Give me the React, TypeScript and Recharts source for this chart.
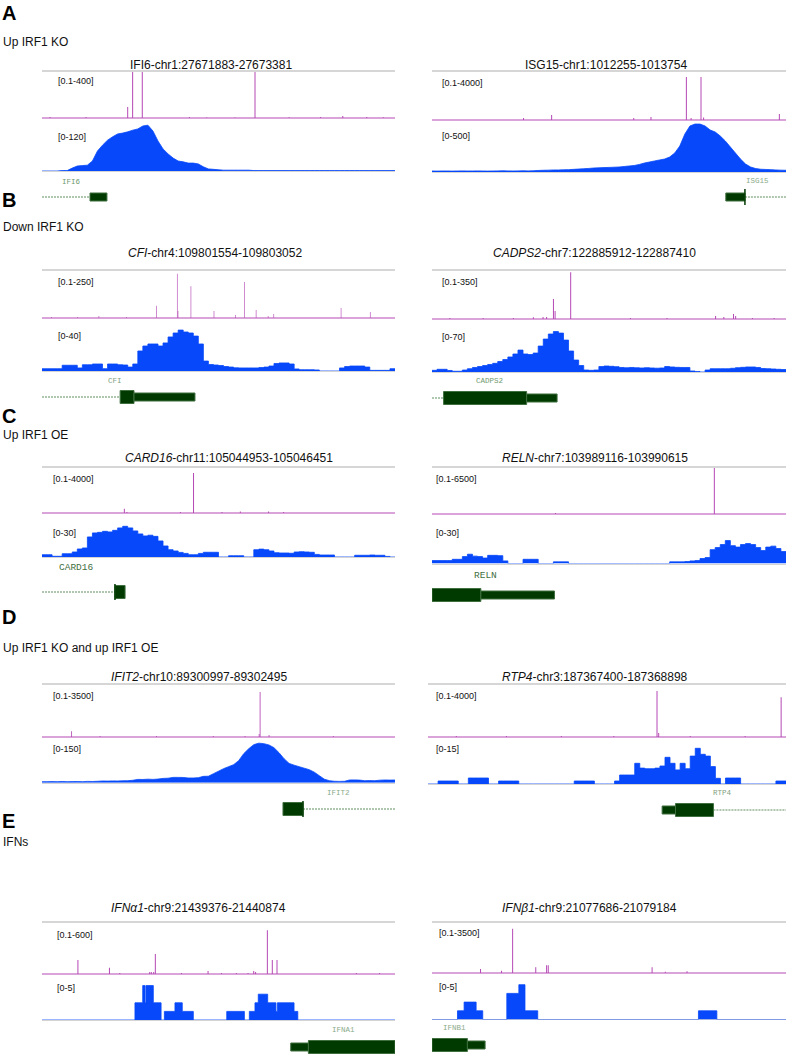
import React from "react";
import {
  Area,
  AreaChart,
  Bar,
  BarChart,
  ComposedChart,
  Line,
  ReferenceArea,
  ReferenceLine,
  XAxis,
  YAxis,
} from "recharts";

document.body.style.margin = "0";

const MAGENTA = "#b548b5";
const BLUE = "#0648fa";
const GENE_FILL = "#013a01";
const GENE_EDGE = "#3f6f3f";
const INTRON = "#5f8f5f";
const FONT = "'Liberation Sans', Arial, sans-serif";
const WINDOW_BP = 1500;

// ---- coverage (blue), binned every ~21 bp across the window ----
const IFI6_COV = [0, 0, 0, 0, 1, 1, 7, 12, 13, 14, 24, 48, 62, 74, 82, 89, 91, 94, 98, 101, 108, 110, 96, 72, 53, 41, 31, 24, 22, 19, 19, 17, 10, 5, 4, 3, 2, 2, 2, 2, 2, 2, 1, 1, 1, 1, 1, 1, 1, 1, 1, 1, 1, 1, 1, 1, 1, 1, 1, 1, 1, 1, 1, 1, 1, 1, 1, 1, 1, 1, 1];
const ISG15_COV = [10, 9, 10, 10, 9, 10, 11, 10, 10, 11, 10, 9, 10, 11, 12, 11, 10, 11, 12, 11, 12, 15, 17, 18, 20, 20, 22, 23, 26, 29, 32, 35, 39, 41, 43, 45, 47, 49, 54, 59, 64, 74, 88, 98, 108, 118, 127, 147, 186, 255, 372, 451, 470, 470, 451, 412, 392, 353, 304, 245, 186, 127, 78, 49, 34, 27, 25, 23, 20, 18, 17];
const CFI_COV = [1.8, 1.8, 1.8, 1.8, 4.5, 4.5, 4.5, 2.4, 4.9, 4.9, 5.5, 5.5, 1.8, 5.5, 5.5, 4.9, 4.7, 3.1, 5.5, 15.7, 19.6, 21.2, 21.2, 19.6, 22, 26.7, 29.8, 32.1, 30.6, 29.8, 27.4, 21.2, 7.8, 5.1, 4.7, 4.3, 3.5, 3.1, 2.5, 2.4, 2.4, 2.4, 2.4, 2.7, 3.1, 3.9, 5.9, 6.3, 6.3, 5.5, 1.6, 1, 1, 1, 0.8, 0, 0, 0, 0, 2.4, 3.5, 3.9, 3.9, 3.9, 3.1, 0.5, 0.5, 0.5, 0.5, 1.8, 1.8];
const CADPS2_COV = [2.3, 3.7, 3.7, 2.1, 1, 1, 2.7, 4.5, 6.2, 7.5, 8.9, 10.3, 11.9, 14.4, 17.1, 20.6, 24.7, 30.1, 24.7, 24, 26, 35.6, 45.2, 52.1, 55.5, 53.4, 43.8, 28.8, 16.4, 8.9, 2.7, 2.3, 2.7, 7.5, 8.2, 7.8, 7.3, 6.2, 5.8, 6.2, 5.8, 5.5, 5.9, 5.5, 5.2, 5.5, 7.5, 6.9, 6.4, 6.2, 6.2, 1.4, 0.7, 0, 2.7, 4.5, 4.5, 4.5, 4.5, 5.1, 5.9, 6.4, 6.9, 6.9, 6.2, 4.8, 4.5, 4.1, 3.7, 3.4, 3.2];
const CARD16_COV = [1.6, 1.6, 0.5, 0.5, 2.3, 2.3, 3.5, 5.6, 6.3, 14, 16.8, 17.2, 17.9, 17.5, 18.6, 20.3, 21.4, 20.3, 18.2, 16.1, 14.7, 15.2, 14.4, 11.2, 7.7, 5.1, 4.2, 3.2, 2.5, 1.6, 1.6, 2.5, 3.3, 3.3, 3.3, 0, 0, 0.9, 0.9, 0.9, 0, 0, 5.1, 5.5, 5.1, 4.2, 3, 2.8, 2.8, 2.6, 3.5, 3.7, 3.5, 3.3, 1.8, 1.4, 1.4, 1.4, 0, 0, 0, 0, 1.2, 1.2, 1.2, 1.4, 1.2, 1.2, 0.4, 0, 0];
const RELN_COV = [1.9, 1.9, 1.9, 1.9, 2.7, 2.7, 4.4, 5.9, 4.7, 4.4, 3.5, 5.2, 5.2, 5, 1.7, 0, 0, 0, 2.7, 2.7, 2.7, 0, 0, 0, 1.1, 1.1, 1.1, 0, 0, 0, 0, 0, 0, 0, 0, 0, 0, 0, 0, 0, 0, 0, 0, 0, 0, 0, 0, 1.1, 1.1, 1.1, 1.3, 1.7, 1.9, 3.2, 3.8, 8.8, 10.1, 12, 14.5, 11.3, 10.4, 12, 12.6, 12, 10.1, 8.2, 10.4, 11, 9.5, 7.6, 6.9];
const IFIT2_COV = [3.4, 3.4, 3.7, 3.4, 4, 3.4, 3.7, 4, 3.4, 4.4, 4, 4.7, 5.7, 5.4, 6, 5.7, 6.4, 6.7, 8.1, 11.1, 10.8, 11.8, 11.1, 12.1, 14.4, 15.1, 17.8, 17.8, 17.5, 15.8, 15.8, 16.8, 21.2, 21.8, 30.2, 38.6, 47, 53.8, 60.5, 73.9, 97.4, 114.2, 127.7, 132.7, 131, 126.7, 117.6, 100.8, 80.6, 64.8, 58.8, 53.8, 48.7, 43.7, 35.3, 23.5, 11.8, 6.7, 4.7, 4.4, 4.7, 9.1, 9.4, 8.7, 6.7, 7.1, 6.7, 8.4, 9.1, 8.7, 9.1];
const RTP4_COV = [0, 0, 1, 1, 1, 1, 0, 0, 2, 2, 2, 2, 0, 0, 1, 1, 1, 1, 0, 0, 0, 0, 0, 0, 0, 0, 0, 0, 0, 1, 1, 1, 1, 0, 0, 0, 0, 1, 3, 3, 3, 6.9, 5.3, 5.1, 5.1, 5.3, 6, 8.9, 6.9, 4.7, 6.9, 5.1, 9.3, 11.9, 9.9, 9.3, 5.8, 1.9, 0, 2, 2, 2, 0, 0, 0, 0, 0, 0, 0, 1, 1, 1];
// sparse coverage as [bp, depth] change points
const IFNA1_COV = [[0, 0], [395, 2], [428, 4], [438, 2], [442, 4], [473, 2], [506, 0], [520, 1], [565, 2], [596, 1], [643, 0], [785, 1], [860, 0], [881, 1], [905, 2], [919, 3], [959, 2], [994, 1], [1000, 2], [1071, 1], [1087, 0], [1500, 0]];
const IFNB1_COV = [[0, 0], [108, 1], [136, 2], [187, 1], [215, 0], [317, 3], [368, 4], [394, 1], [448, 0], [1129, 1], [1207, 0], [1500, 0]];

// ---- signal spikes (magenta) as [bp, value] ----
const IFI6_SPIKES = [[34, 8], [187, 9], [364, 94], [385, 391], [426, 391], [626, 9], [700, 5], [820, 5], [905, 391], [1050, 6], [1184, 8], [1278, 17], [1380, 8], [1450, 6]];
const ISG15_SPIKES = [[387, 163], [506, 408], [854, 163], [927, 245], [1077, 3510], [1097, 163], [1139, 3510], [1150, 200], [1471, 490]];
const CFI_SPIKES = [[41, 5], [152, 5], [242, 10], [360, 5], [487, 64], [575, 230], [578, 36], [633, 166], [731, 36], [823, 16], [861, 187], [910, 42], [961, 10], [985, 21], [1271, 52], [1395, 31]];
const CADPS2_SPIKES = [[77, 7], [218, 7], [346, 7], [431, 12], [472, 14], [487, 14], [516, 142], [523, 57], [589, 334], [842, 7], [997, 7], [1203, 21], [1238, 14], [1279, 36], [1288, 21], [1359, 7], [1451, 7]];
const CARD16_SPIKES = [[349, 383], [360, 89], [587, 89], [643, 3560], [764, 89], [842, 134], [962, 134], [1026, 89]];
const RELN_SPIKES = [[523, 138], [1196, 6350]];
const IFIT2_SPIKES = [[126, 376], [247, 66], [487, 66], [728, 66], [863, 66], [923, 198], [927, 2970], [965, 132], [1238, 66]];
const RTP4_SPIKES = [[120, 75], [330, 75], [560, 75], [780, 75], [961, 3470], [968, 300], [1100, 75], [1330, 75], [1481, 3000]];
const IFNA1_SPIKES = [[154, 161], [288, 72], [332, 12], [459, 23], [466, 23], [476, 23], [483, 230], [594, 12], [707, 35], [764, 12], [827, 12], [877, 12], [901, 35], [909, 23], [959, 506], [980, 161], [1000, 161], [1337, 12], [1436, 12]];
const IFNB1_SPIKES = [[207, 274], [296, 158], [343, 3040], [441, 391], [487, 528], [494, 528], [934, 391], [990, 89], [1082, 117]];

// ---- gene models: exons [start, end, coding(1) / utr(0)], intron [start, end] ----
const IFI6_EXONS = [[204, 276, 0]];
const IFI6_INTRON = [0, 204];
const ISG15_EXONS = [[1245, 1326, 0]];
const ISG15_INTRON = [1326, 1500];
const CFI_EXONS = [[332, 391, 1], [391, 650, 0]];
const CFI_INTRON = [0, 332];
const CADPS2_EXONS = [[49, 401, 1], [401, 530, 0]];
const CADPS2_INTRON = [0, 49];
const CARD16_EXONS = [[310, 353, 1]];
const CARD16_INTRON = [0, 310];
const RELN_EXONS = [[0, 207, 1], [207, 519, 0]];
const IFIT2_EXONS = [[1024, 1109, 1]];
const IFIT2_INTRON = [1109, 1500];
const RTP4_EXONS = [[981, 1037, 0], [1037, 1196, 1]];
const RTP4_INTRON = [1196, 1500];
const IFNA1_EXONS = [[1057, 1132, 0], [1132, 1500, 1]];
const IFNB1_EXONS = [[0, 150, 1], [150, 225, 0]];

const SECTIONS = [
  { letter: "A", text: "Up IRF1 KO", letterY: 3, textY: 42 },
  { letter: "B", text: "Down IRF1 KO", letterY: 190, textY: 227 },
  { letter: "C", text: "Up IRF1 OE", letterY: 406, textY: 435 },
  { letter: "D", text: "Up IRF1 KO and up IRF1 OE", letterY: 607, textY: 648 },
  { letter: "E", text: "IFNs", letterY: 811, textY: 842 },
];

type Panel = {
  gene: string;
  italic: boolean;
  locus: string;
  left: number;
  width: number;
  titleX: number;
  titleY: number;
  grayY: number;
  magBase: number;
  magH: number;
  magMax: number;
  magLabel: string;
  magLabelY: number;
  blueBase: number;
  blueH: number;
  blueMax: number;
  blueLabel: string;
  blueLabelY: number;
  labelX: number;
  cov: number[] | number[][];
  sparse?: boolean;
  curve: "linear" | "stepAfter";
  spikes: number[][];
  exons: number[][];
  intron?: number[];
  mark?: number;
  geneY: number;
  name: string;
  nameX: number;
  nameY: number;
  nameSize: number;
  nameColor: string;
};

const PANELS: Panel[] = [
  { gene: "IFI6", italic: false, locus: "-chr1:27671883-27673381", left: 42, width: 353, titleX: 130, titleY: 65, grayY: 71, magBase: 118, magH: 47, magMax: 400, magLabel: "[0.1-400]", magLabelY: 81, blueBase: 171, blueH: 50, blueMax: 120, blueLabel: "[0-120]", blueLabelY: 137, labelX: 58, cov: IFI6_COV, curve: "linear", spikes: IFI6_SPIKES, exons: IFI6_EXONS, intron: IFI6_INTRON, geneY: 197, name: "IFI6", nameX: 62, nameY: 182, nameSize: 7.5, nameColor: "#6f9a6f" },
  { gene: "ISG15", italic: false, locus: "-chr1:1012255-1013754", left: 432, width: 354, titleX: 525, titleY: 65, grayY: 71, magBase: 120, magH: 49, magMax: 4000, magLabel: "[0.1-4000]", magLabelY: 83, blueBase: 172, blueH: 51, blueMax: 500, blueLabel: "[0-500]", blueLabelY: 136, labelX: 442, cov: ISG15_COV, curve: "linear", spikes: ISG15_SPIKES, exons: ISG15_EXONS, intron: ISG15_INTRON, mark: 1326, geneY: 197, name: "ISG15", nameX: 746, nameY: 181, nameSize: 7.5, nameColor: "#8aaa8a" },
  { gene: "CFI", italic: true, locus: "-chr4:109801554-109803052", left: 42, width: 353, titleX: 128, titleY: 253, grayY: 270, magBase: 318, magH: 48, magMax: 250, magLabel: "[0.1-250]", magLabelY: 282, blueBase: 371, blueH: 51, blueMax: 40, blueLabel: "[0-40]", blueLabelY: 336, labelX: 58, cov: CFI_COV, curve: "stepAfter", spikes: CFI_SPIKES, exons: CFI_EXONS, intron: CFI_INTRON, geneY: 397, name: "CFI", nameX: 108, nameY: 381, nameSize: 7.5, nameColor: "#7f9f7f" },
  { gene: "CADPS2", italic: true, locus: "-chr7:122885912-122887410", left: 432, width: 354, titleX: 493, titleY: 253, grayY: 270, magBase: 319, magH: 49, magMax: 350, magLabel: "[0.1-350]", magLabelY: 282, blueBase: 372, blueH: 51, blueMax: 70, blueLabel: "[0-70]", blueLabelY: 337, labelX: 442, cov: CADPS2_COV, curve: "stepAfter", spikes: CADPS2_SPIKES, exons: CADPS2_EXONS, intron: CADPS2_INTRON, geneY: 398, name: "CADPS2", nameX: 476, nameY: 381, nameSize: 7.5, nameColor: "#6f9a6f" },
  { gene: "CARD16", italic: true, locus: "-chr11:105044953-105046451", left: 42, width: 353, titleX: 125, titleY: 458, grayY: 467, magBase: 512.5, magH: 45, magMax: 4000, magLabel: "[0.1-4000]", magLabelY: 479, blueBase: 557, blueH: 43, blueMax: 30, blueLabel: "[0-30]", blueLabelY: 533, labelX: 53, cov: CARD16_COV, curve: "stepAfter", spikes: CARD16_SPIKES, exons: CARD16_EXONS, intron: CARD16_INTRON, mark: 310, geneY: 592, name: "CARD16", nameX: 59, nameY: 568, nameSize: 9.5, nameColor: "#3f6f3f" },
  { gene: "RELN", italic: true, locus: "-chr7:103989116-103990615", left: 432, width: 354, titleX: 502, titleY: 458, grayY: 467, magBase: 514, magH: 47, magMax: 6500, magLabel: "[0.1-6500]", magLabelY: 479, blueBase: 564, blueH: 47.6, blueMax: 30, blueLabel: "[0-30]", blueLabelY: 533, labelX: 436, cov: RELN_COV, curve: "stepAfter", spikes: RELN_SPIKES, exons: RELN_EXONS, geneY: 595, name: "RELN", nameX: 474, nameY: 576, nameSize: 9.5, nameColor: "#3f6f3f" },
  { gene: "IFIT2", italic: true, locus: "-chr10:89300997-89302495", left: 42, width: 353, titleX: 111, titleY: 677, grayY: 683.5, magBase: 736.5, magH: 53, magMax: 3500, magLabel: "[0.1-3500]", magLabelY: 696, blueBase: 782.5, blueH: 44.7, blueMax: 150, blueLabel: "[0-150]", blueLabelY: 749, labelX: 53, cov: IFIT2_COV, curve: "linear", spikes: IFIT2_SPIKES, exons: IFIT2_EXONS, intron: IFIT2_INTRON, mark: 1109, geneY: 809, name: "IFIT2", nameX: 327, nameY: 793, nameSize: 7.5, nameColor: "#8aaa8a" },
  { gene: "RTP4", italic: true, locus: "-chr3:187367400-187368898", left: 428, width: 358, titleX: 502, titleY: 677, grayY: 684, magBase: 737, magH: 53, magMax: 4000, magLabel: "[0.1-4000]", magLabelY: 696, blueBase: 784, blueH: 45, blueMax: 15, blueLabel: "[0-15]", blueLabelY: 749, labelX: 436, cov: RTP4_COV, curve: "stepAfter", spikes: RTP4_SPIKES, exons: RTP4_EXONS, intron: RTP4_INTRON, geneY: 810, name: "RTP4", nameX: 713, nameY: 793, nameSize: 7.5, nameColor: "#7f9f7f" },
  { gene: "IFNα1", italic: true, locus: "-chr9:21439376-21440874", left: 42, width: 353, titleX: 111, titleY: 908, grayY: 922, magBase: 974, magH: 52, magMax: 600, magLabel: "[0.1-600]", magLabelY: 935, blueBase: 1020, blueH: 43, blueMax: 5, blueLabel: "[0-5]", blueLabelY: 988, labelX: 57, cov: IFNA1_COV, sparse: true, curve: "stepAfter", spikes: IFNA1_SPIKES, exons: IFNA1_EXONS, geneY: 1046.5, name: "IFNA1", nameX: 332, nameY: 1030, nameSize: 7.5, nameColor: "#8aaa8a" },
  { gene: "IFNβ1", italic: true, locus: "-chr9:21077686-21079184", left: 432, width: 354, titleX: 502, titleY: 908, grayY: 922, magBase: 973, magH: 51, magMax: 3500, magLabel: "[0.1-3500]", magLabelY: 933, blueBase: 1019, blueH: 43.5, blueMax: 5, blueLabel: "[0-5]", blueLabelY: 987, labelX: 439, cov: IFNB1_COV, sparse: true, curve: "stepAfter", spikes: IFNB1_SPIKES, exons: IFNB1_EXONS, geneY: 1045, name: "IFNB1", nameX: 443, nameY: 1028, nameSize: 7.5, nameColor: "#8aaa8a" },
];

const abs = (top: number, left: number): React.CSSProperties => ({
  position: "absolute",
  top,
  left,
  whiteSpace: "nowrap",
});

function SpikeTrack({ p }: { p: Panel }) {
  const data = p.spikes.map(([bp, v]) => ({ bp, v }));
  return (
    <div style={abs(p.magBase - p.magH, p.left)}>
      <BarChart
        width={p.width}
        height={p.magH + 1}
        data={data}
        margin={{ top: 0, right: 0, bottom: 1, left: 0 }}
      >
        <XAxis type="number" dataKey="bp" domain={[0, WINDOW_BP]} hide />
        <YAxis type="number" domain={[0, p.magMax]} allowDataOverflow hide />
        <ReferenceLine y={0} stroke={MAGENTA} strokeWidth={1} />
        <Bar dataKey="v" fill={MAGENTA} barSize={1} isAnimationActive={false} />
      </BarChart>
    </div>
  );
}

function CoverageTrack({ p }: { p: Panel }) {
  const data = p.sparse
    ? (p.cov as number[][]).map(([bp, v]) => ({ bp, v }))
    : (p.cov as number[]).map((v, i) => ({ i, v }));
  return (
    <>
      <div
        style={{
          ...abs(p.blueBase, p.left),
          width: p.width,
          height: 1,
          background: "#d4d4d4",
        }}
      />
      <div style={abs(p.blueBase - p.blueH, p.left)}>
        <AreaChart
          width={p.width}
          height={p.blueH + 1}
          data={data}
          margin={{ top: 0, right: 0, bottom: 1, left: 0 }}
        >
          {p.sparse ? (
            <XAxis type="number" dataKey="bp" domain={[0, WINDOW_BP]} hide />
          ) : (
            <XAxis dataKey="i" hide />
          )}
          <YAxis type="number" domain={[0, p.blueMax]} allowDataOverflow hide />
          <Area
            type={p.curve}
            dataKey="v"
            stroke={BLUE}
            strokeWidth={0.8}
            fill={BLUE}
            fillOpacity={1}
            dot={false}
            isAnimationActive={false}
          />
        </AreaChart>
      </div>
    </>
  );
}

function GeneTrack({ p }: { p: Panel }) {
  const span = p.intron ?? [p.exons[0][0], p.exons[p.exons.length - 1][1]];
  const data = span.map((bp) => ({ bp, y: 0 }));
  return (
    <div style={abs(p.geneY - 11, p.left)}>
      <ComposedChart
        width={p.width}
        height={22}
        data={data}
        margin={{ top: 0, right: 0, bottom: 0, left: 0 }}
      >
        <XAxis type="number" dataKey="bp" domain={[0, WINDOW_BP]} hide />
        <YAxis type="number" domain={[-11, 11]} hide />
        <Line
          dataKey="y"
          stroke={p.intron ? INTRON : "none"}
          strokeWidth={1}
          strokeDasharray="2 1"
          dot={false}
          isAnimationActive={false}
        />
        {p.exons.map(([s, e, coding], k) => (
          <ReferenceArea
            key={k}
            x1={s}
            x2={e}
            y1={coding ? -6.5 : -4}
            y2={coding ? 6.5 : 4}
            fill={GENE_FILL}
            fillOpacity={1}
            stroke={GENE_EDGE}
            strokeWidth={1}
          />
        ))}
        {p.mark !== undefined && (
          <ReferenceLine
            segment={[
              { x: p.mark, y: -8 },
              { x: p.mark, y: 8 },
            ]}
            stroke={GENE_FILL}
            strokeWidth={1.5}
          />
        )}
      </ComposedChart>
    </div>
  );
}

function PanelView({ p }: { p: Panel }) {
  return (
    <>
      <div style={{ ...abs(p.titleY - 7, p.titleX), fontSize: 12, lineHeight: "14px", color: "#111" }}>
        <span style={{ fontStyle: p.italic ? "italic" : "normal" }}>{p.gene}</span>
        {p.locus}
      </div>
      <div
        style={{
          ...abs(p.grayY - 1, p.left),
          width: p.width,
          height: 2,
          background: "#d6d6d6",
        }}
      />
      <SpikeTrack p={p} />
      <CoverageTrack p={p} />
      <div style={{ ...abs(p.magLabelY - 5.5, p.labelX), fontSize: 9, lineHeight: "11px", color: "#111" }}>
        {p.magLabel}
      </div>
      <div style={{ ...abs(p.blueLabelY - 5.5, p.labelX), fontSize: 9, lineHeight: "11px", color: "#111" }}>
        {p.blueLabel}
      </div>
      <div
        style={{
          ...abs(p.nameY - 5, p.nameX),
          fontFamily: "'Liberation Mono', monospace",
          fontSize: p.nameSize,
          lineHeight: "10px",
          color: p.nameColor,
        }}
      >
        {p.name}
      </div>
      <GeneTrack p={p} />
    </>
  );
}

export default function App() {
  return (
    <div
      style={{
        position: "relative",
        width: 786,
        height: 1055,
        overflow: "hidden",
        background: "#fff",
        fontFamily: FONT,
      }}
    >
      {SECTIONS.map((s) => (
        <React.Fragment key={s.letter}>
          <div style={{ ...abs(s.letterY, 2), fontSize: 20, fontWeight: 700, lineHeight: "20px" }}>
            {s.letter}
          </div>
          <div style={{ ...abs(s.textY - 7, 3), fontSize: 12, lineHeight: "14px", color: "#111" }}>
            {s.text}
          </div>
        </React.Fragment>
      ))}
      {PANELS.map((p) => (
        <PanelView key={p.gene} p={p} />
      ))}
    </div>
  );
}
